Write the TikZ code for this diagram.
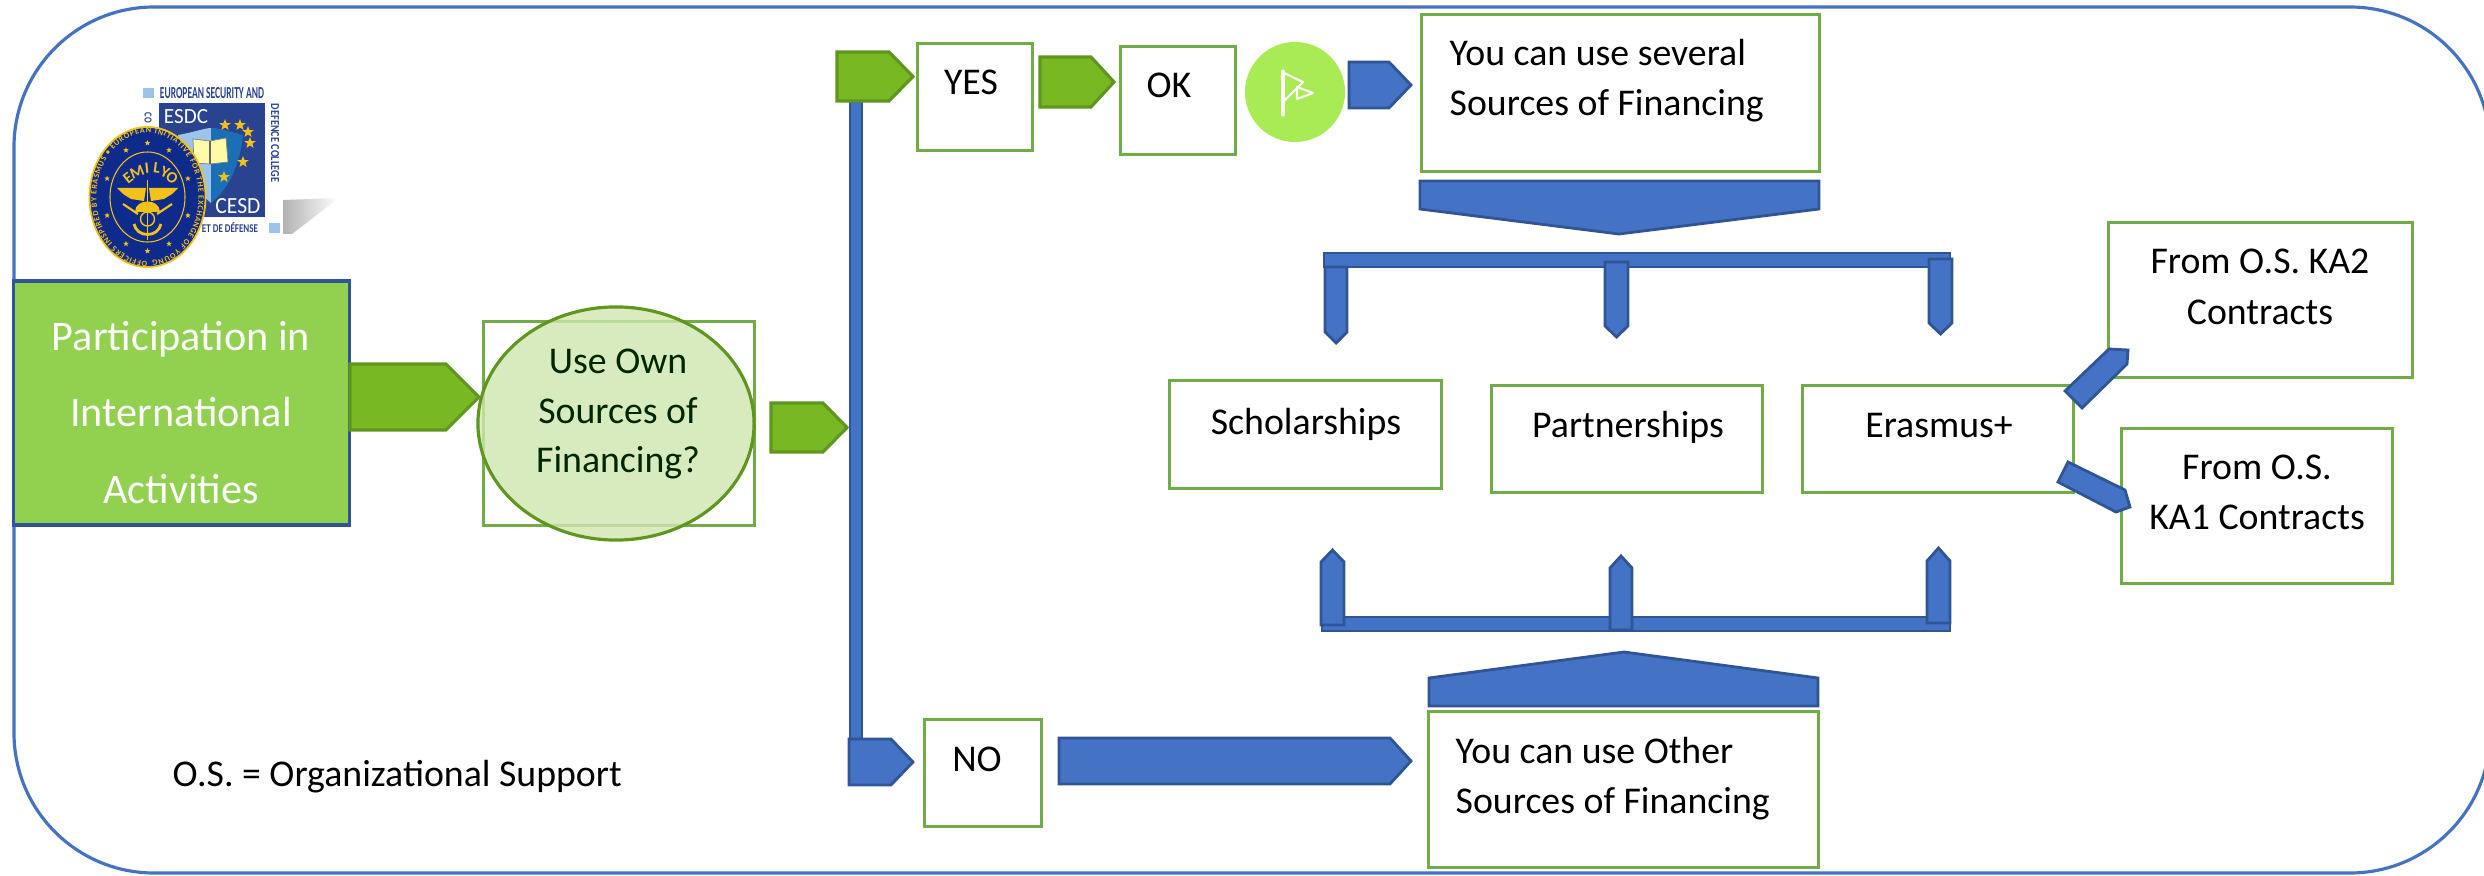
\documentclass[tikz,border=0pt]{standalone}
\usepackage{fontspec}
\setmainfont{Carlito}
\usetikzlibrary{shapes.geometric,decorations.text}
\definecolor{framecol}{HTML}{4472C4}
\definecolor{bluedark}{HTML}{2F5597}
\definecolor{boxgreen}{HTML}{70AD47}
\definecolor{startfill}{HTML}{92D050}
\definecolor{arrowgreen}{HTML}{78B823}
\definecolor{arrowline}{HTML}{5E961E}
\definecolor{askfill}{HTML}{CFE6AF}
\definecolor{flagfill}{HTML}{A9EB55}
\definecolor{esdcblue}{HTML}{2A4390}
\definecolor{esdclight}{HTML}{9CC3EA}
\definecolor{esdcmid}{HTML}{1B6FB5}
\definecolor{emnavy}{HTML}{0E2A8A}
\definecolor{emgold}{HTML}{F2C21A}
\newcommand{\logotext}[3]{\resizebox{#1cm}{#2cm}{\bfseries #3}}
\tikzset{
  srcbox/.style={draw=boxgreen, line width=0.85pt, fill=white, inner sep=0pt},
  greenarrow/.style={draw=arrowline, fill=arrowgreen, line width=0.9pt, line join=miter},
  bluearrow/.style={draw=bluedark, fill=framecol, line width=0.8pt},
  boxtext/.style={font=\fontsize{10.75}{13}\selectfont, inner sep=0pt, text height=8pt, text depth=0.6pt},
  lefttext/.style={boxtext, anchor=west},
  starttext/.style={font=\fontsize{12}{14}\selectfont, text=white, inner sep=0pt, text height=9.5pt, text depth=1pt},
}
\begin{document}
\begin{tikzpicture}[x=0.01cm,y=-0.01cm]
  \useasboundingbox (0,0) rectangle (2484,876);
  \draw [framecol, line width=0.9pt, rounded corners=1.4cm] (14,7) rectangle (2490,873);

  % logo, college square
  \shade [left color=black!30, right color=white] (283,200) -- (339,198) -- (292,234) -- (283,234) -- cycle;
  \fill [white] (143,87) rectangle (283,235);
  \fill [esdclight] (143,88) rectangle (154,98);
  \fill [esdclight] (269,223) rectangle (280,233);
  \fill [esdcblue] (159,103) rectangle (265,217);
  \node (esdctop) [text=esdcblue, inner sep=0pt] at (212,93) {\logotext{1.04}{0.11}{EUROPEAN SECURITY AND}};
  \node (esdcside) [text=esdcblue, inner sep=0pt, rotate=-90] at (275,143) {\logotext{0.78}{0.08}{DEFENCE COLLEGE}};
  \node (esdcbottom) [text=esdcblue, inner sep=0pt] at (230,228) {\logotext{0.56}{0.10}{ET DE DÉFENSE}};
  \node (esdcleft) [text=esdcblue, inner sep=0pt, rotate=-90] at (148,118) {\logotext{0.10}{0.07}{CO}};
  \node (esdcname) [text=white, inner sep=0pt] at (186,117) {\resizebox{0.44cm}{0.14cm}{ESDC}};
  \node (cesdname) [text=white, inner sep=0pt] at (238,206) {\resizebox{0.45cm}{0.15cm}{CESD}};
  \fill [esdclight] (178,135) .. controls (195,132) and (205,128) .. (211,128) -- (211,203) .. controls (195,190) and (182,165) .. (178,135) -- cycle;
  \fill [esdcmid] (211,128) .. controls (220,128) and (230,132) .. (243,135) .. controls (240,165) and (228,190) .. (211,203) -- cycle;
  \fill [yellow!35!white, draw=black!50, line width=0.2pt] (193,139) -- (210,141) -- (226,138) -- (228,162) -- (210,164) -- (194,163) -- cycle;
  \draw [black!60, line width=0.3pt] (210,141) -- (210,164);
  \foreach \sx/\sy in {225/125, 240/125, 248/132, 250/143, 243/162, 224/177}
    \node [star, star points=5, star point ratio=2.4, fill=emgold, inner sep=0pt, minimum size=0.12cm] at (\sx,\sy) {};

  % logo, emblem
  \fill [white] (89,125) rectangle (150,268);
  \draw [emgold, fill=emnavy, line width=0.5pt] (147.5,197) ellipse [x radius=0.58cm, y radius=0.70cm];
  \draw [emgold, line width=0.3pt] (147.5,197) ellipse [x radius=0.375cm, y radius=0.45cm];
  \path [decorate, decoration={text along path, text align=fit to path, text color=emgold,
      text={|\fontsize{2.3}{3}\selectfont\bfseries|OFFICERS INSPIRED BY ERASMUS • EUROPEAN INITIATIVE FOR THE EXCHANGE OF YOUNG}}]
    (147.5,261) arc [start angle=270, end angle=-85, x radius=0.51cm, y radius=0.64cm];
  \foreach \lt/\lx/\ly/\lr in {E/128/178/38, M/137/172/22, I/147/168/6, L/157/168/-8, Y/165/172/-22, O/172/178/-38}
    \node [text=emgold, inner sep=0pt, font=\fontsize{4.5}{5}\selectfont\bfseries, rotate=\lr] at (\lx,\ly) {\lt};
  \foreach \sa in {20,60,90,120,160,200,240,270,300,340}
    \node [star, star points=5, star point ratio=2.4, fill=emgold, inner sep=0pt, minimum size=0.06cm] at ({147.5+43*cos(\sa)},{197-54*sin(\sa)}) {};
  \fill [emgold] (117,188) -- (146,188) -- (144,201) -- (131,199) -- (123,194) -- cycle;
  \fill [emgold] (178,188) -- (149,188) -- (151,201) -- (164,199) -- (172,194) -- cycle;
  \fill [emgold] (135,212) .. controls (135,198) and (160,198) .. (160,212) -- cycle;
  \draw [emgold, line width=0.6pt] (123,204) -- (138,214);
  \draw [emgold, line width=0.6pt] (172,204) -- (157,214);
  \draw [emgold, line width=0.5pt] (147.5,180) -- (147.5,240);
  \draw [emgold, line width=0.8pt] (134,224) .. controls (137,238) and (158,238) .. (161,224);
  \draw [emgold, line width=0.4pt] (147.5,219) circle [radius=0.07cm];

  % left side
  \node (start) [draw=bluedark, fill=startfill, line width=0.9pt, minimum width=3.35cm, minimum height=2.44cm, inner sep=0pt] at (181.5,403) {};
  \node (startA) [starttext] at (181,336) {Participation in};
  \node (startB) [starttext] at (181,412) {International};
  \node (startC) [starttext] at (181,489) {Activities};
  \draw [greenarrow] (350,364) -- (446,364) -- (479,397) -- (446,430) -- (350,430) -- cycle;
  \node (askbox) [srcbox, minimum width=2.70cm, minimum height=2.03cm] at (619,423.5) {};
  \node (ask) [ellipse, draw=arrowline, fill=askfill, fill opacity=0.8, line width=0.9pt, minimum width=2.76cm, minimum height=2.33cm, inner sep=0pt] at (616,423.5) {};
  \node (askA) [boxtext, text=black!75!green!60!black] at (618,360) {Use Own};
  \node (askB) [boxtext, text=black!75!green!60!black] at (618,410) {Sources of};
  \node (askC) [boxtext, text=black!75!green!60!black] at (618,459) {Financing?};
  \draw [greenarrow] (771,403) -- (823,403) -- (847,427.5) -- (823,452) -- (771,452) -- cycle;

  % yes and no branch
  \draw [bluearrow] (850,90) rectangle (862,745);
  \draw [greenarrow] (837,52) -- (889,52) -- (913,76.5) -- (889,101) -- (837,101) -- cycle;
  \draw [bluearrow] (849,739) -- (891,739) -- (913,762) -- (891,785) -- (849,785) -- cycle;
  \node (yesbox) [srcbox, minimum width=1.14cm, minimum height=1.06cm] at (975,97) {};
  \node (yes) [boxtext] at (971,81) {YES};
  \draw [greenarrow] (1040,57) -- (1091,57) -- (1114,82) -- (1091,107) -- (1040,107) -- cycle;
  \node (okbox) [srcbox, minimum width=1.14cm, minimum height=1.07cm] at (1178,100.5) {};
  \node (ok) [boxtext] at (1169,84) {OK};
  \node (flag) [circle, fill=flagfill, minimum size=1.0cm, inner sep=0pt] at (1295,92) {};
  \draw [white, line width=0.9pt, line cap=round] (1283,71) -- (1283,115);
  \draw [white, line width=0.6pt, line join=round] (1284,73) -- (1303,82) -- (1297,88) (1297,88) -- (1284,101);
  \draw [white, line width=0.6pt, line join=round] (1297,87) -- (1313,93) -- (1297,99) -- cycle;
  \draw [bluearrow] (1349,62) -- (1389,62) -- (1411,85) -- (1389,108) -- (1349,108) -- cycle;
  \node (several) [srcbox, minimum width=3.97cm, minimum height=1.56cm] at (1620.5,93) {};
  \node (severalA) [lefttext] at (1449,52) {You can use several};
  \node (severalB) [lefttext] at (1449,102) {Sources of Financing};
  \draw [bluearrow] (1420,181) -- (1819,181) -- (1819,209) -- (1619,234) -- (1420,209) -- cycle;

  % upper bar and its arrows
  \draw [bluearrow] (1324,253) rectangle (1950,267);
  \draw [bluearrow] (1325,267) -- (1347,267) -- (1347,332) -- (1336,343) -- (1325,332) -- cycle;
  \draw [bluearrow] (1605,262) -- (1628,262) -- (1628,326) -- (1616.5,337) -- (1605,326) -- cycle;
  \draw [bluearrow] (1929,259) -- (1952,259) -- (1952,323) -- (1940.5,334) -- (1929,323) -- cycle;

  % the three sources
  \node (scholar) [srcbox, minimum width=2.71cm, minimum height=1.07cm] at (1305.5,434.5) {};
  \node (scholarT) [boxtext] at (1306,421) {Scholarships};
  \node (partner) [srcbox, minimum width=2.70cm, minimum height=1.06cm] at (1627,439) {};
  \node (partnerT) [boxtext] at (1628,424) {Partnerships};
  \node (erasmus) [srcbox, minimum width=2.70cm, minimum height=1.06cm] at (1938,439) {};
  \node (erasmusT) [boxtext] at (1939,424) {Erasmus+};

  % contracts
  \node (katwo) [srcbox, minimum width=3.03cm, minimum height=1.54cm] at (2260.5,300) {};
  \node (katwoA) [boxtext] at (2260,260) {From O.S. KA2};
  \node (katwoB) [boxtext] at (2260,311) {Contracts};
  \node (kaone) [srcbox, minimum width=2.70cm, minimum height=1.54cm] at (2257,506) {};
  \node (kaoneA) [boxtext] at (2257,466) {From O.S.};
  \node (kaoneB) [boxtext] at (2257,516) {KA1 Contracts};
  \draw [bluearrow] (2065,391) -- (2109,349) -- (2128,350) -- (2127,364) -- (2082,408) -- cycle;
  \draw [bluearrow] (2068,462) -- (2125,490) -- (2130,507) -- (2116,512) -- (2058,482) -- cycle;

  % lower bar and its arrows
  \draw [bluearrow] (1322,617) rectangle (1950,631);
  \draw [bluearrow] (1321,562) -- (1332.5,550) -- (1344,562) -- (1344,625) -- (1321,625) -- cycle;
  \draw [bluearrow] (1610,568) -- (1621,556) -- (1632,568) -- (1632,630) -- (1610,630) -- cycle;
  \draw [bluearrow] (1927,561) -- (1938.5,548) -- (1950,561) -- (1950,623) -- (1927,623) -- cycle;
  \draw [bluearrow] (1429,678) -- (1624,652) -- (1818,678) -- (1818,706) -- (1429,706) -- cycle;

  % bottom row
  \node (nobox) [srcbox, minimum width=1.16cm, minimum height=1.06cm] at (983,773) {};
  \node (no) [boxtext] at (977,758) {NO};
  \draw [bluearrow] (1059,738) -- (1390,738) -- (1411,761) -- (1390,784) -- (1059,784) -- cycle;
  \node (other) [srcbox, minimum width=3.89cm, minimum height=1.55cm] at (1623.5,789.5) {};
  \node (otherA) [lefttext] at (1455,750) {You can use Other};
  \node (otherB) [lefttext] at (1455,800) {Sources of Financing};
  \node (legend) [lefttext] at (172,773) {O.S. = Organizational Support};
\end{tikzpicture}
\end{document}
